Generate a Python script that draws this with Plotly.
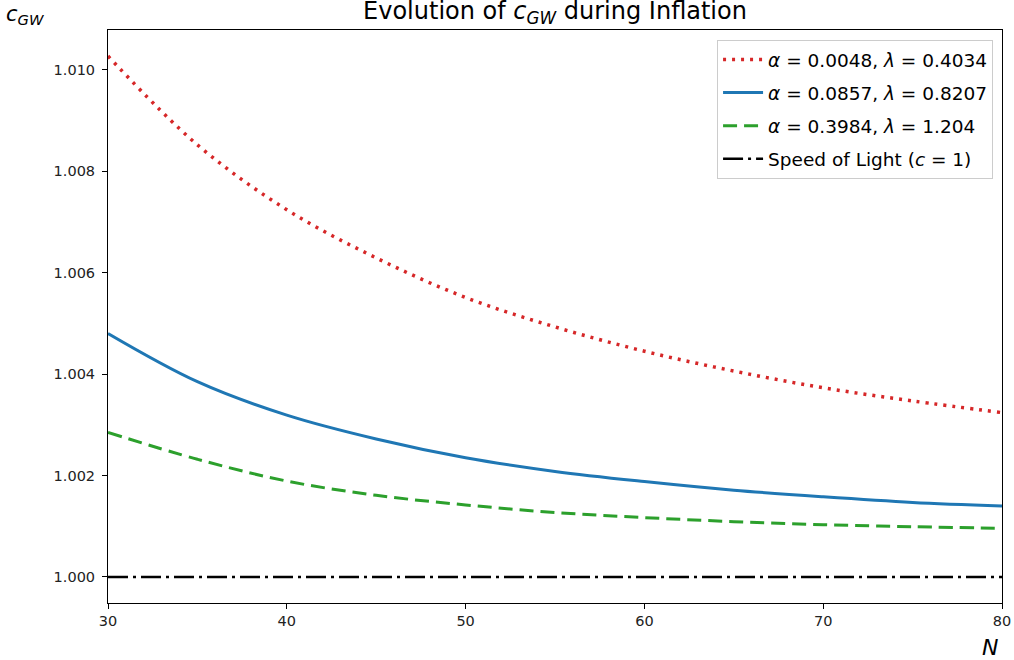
import plotly.graph_objects as go

N = [30, 35, 40, 45, 50, 55, 60, 65, 70, 75, 80]
c_red = [1.01027, 1.00852, 1.00724, 1.00629, 1.00551, 1.00493, 1.00445, 1.00406, 1.00373, 1.00347, 1.00324]
c_blue = [1.00480, 1.00385, 1.00319, 1.00272, 1.00235, 1.00208, 1.00188, 1.00171, 1.00158, 1.00147, 1.00140]
c_green = [1.00285, 1.00232, 1.00189, 1.00161, 1.00142, 1.00127, 1.00117, 1.00109, 1.00103, 1.00099, 1.00096]
c_light = [1.0] * len(N)

names = [
    "<i>α</i> = 0.0048, <i>λ</i> = 0.4034",
    "<i>α</i> = 0.0857, <i>λ</i> = 0.8207",
    "<i>α</i> = 0.3984, <i>λ</i> = 1.204",
    "Speed of Light (<i>c</i> = 1)",
]
y_ticks = [1.000, 1.002, 1.004, 1.006, 1.008, 1.010]
x_ticks = [30, 40, 50, 60, 70, 80]

FONT = "DejaVu Sans"

fig = go.Figure()
fig.add_trace(go.Scatter(x=N, y=c_red, mode="lines", name=names[0], legendgroup="a",
                         line=dict(color="#d62728", width=3.5, dash="3px,6px", shape="spline")))
fig.add_trace(go.Scatter(x=N, y=c_blue, mode="lines", name=names[1], legendgroup="b",
                         line=dict(color="#1f77b4", width=3, shape="spline")))
fig.add_trace(go.Scatter(x=N, y=c_green, mode="lines", name=names[2], legendgroup="c",
                         line=dict(color="#2ca02c", width=3, dash="14px,7px", shape="spline")))
fig.add_trace(go.Scatter(x=N, y=c_light, mode="lines", name=names[3], legendgroup="d",
                         line=dict(color="black", width=2.5, dash="20px,5px,3px,5px")))

axis_common = dict(showgrid=False, zeroline=False, showline=True, linecolor="black",
                   linewidth=1, mirror=True, ticks="outside", ticklen=5, tickcolor="black",
                   automargin=False,
                   tickfont=dict(family=FONT, size=14.5, color="#222"))

fig.update_xaxes(range=[30, 80], tickvals=x_ticks, **axis_common)
fig.update_yaxes(range=[0.999486, 1.010784], tickvals=y_ticks, tickformat=".3f",
                 ticklabelstandoff=4, **axis_common)

fig.update_layout(
    width=1014, height=660, autosize=False,
    margin=dict(l=108, r=12, t=30, b=57),
    paper_bgcolor="white", plot_bgcolor="white",
    font=dict(family=FONT, color="black"),
    title=dict(text="Evolution of <i>c<sub>GW</sub></i> during Inflation",
               x=555 / 1014, xanchor="center", y=0.996, yanchor="top", automargin=False,
               font=dict(family=FONT, size=24, color="black")),
    showlegend=True,
    legend=dict(x=0.99, y=0.9825, xanchor="right", yanchor="top",
                bgcolor="white", bordercolor="#cccccc", borderwidth=1,
                tracegroupgap=6, itemwidth=40,
                font=dict(family=FONT, size=18.5, color="black")),
    annotations=[
        dict(text="<i>c<sub>GW</sub></i>", xref="paper", yref="paper",
             x=-0.093, y=1.0, xanchor="center", yanchor="bottom", showarrow=False,
             font=dict(family=FONT, size=21, color="black")),
        dict(text="<i>N</i>", xref="paper", yref="paper",
             x=0.987, y=-0.052, xanchor="center", yanchor="top", showarrow=False,
             font=dict(family=FONT, size=22, color="black")),
    ],
)

fig.write_html("out.html", config={"displayModeBar": False},
               post_script="document.body.style.margin='0';")
